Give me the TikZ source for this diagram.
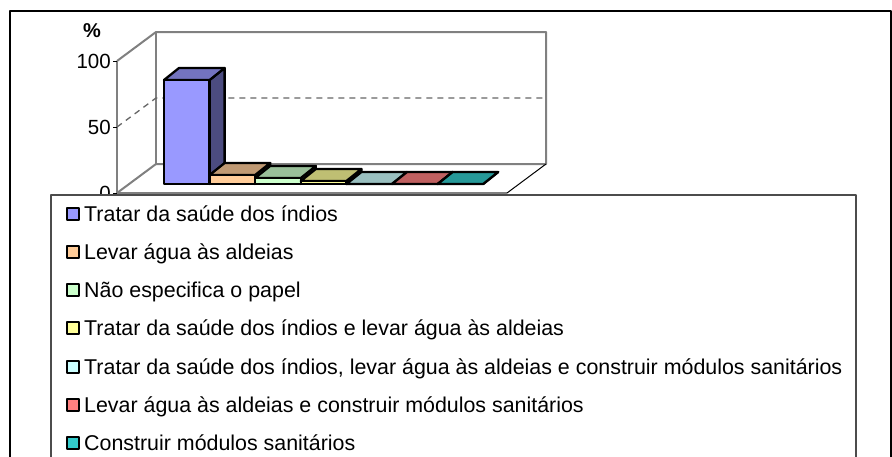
\documentclass[tikz,border=0pt]{standalone}
\usepackage{fontspec}
\setmainfont{Liberation Sans}
\usetikzlibrary{positioning}
\definecolor{cA}{HTML}{9999FF}
\definecolor{cB}{HTML}{FFCC99}
\definecolor{cC}{HTML}{CCFFCC}
\definecolor{cD}{HTML}{FFFF99}
\definecolor{cE}{HTML}{CCFFFF}
\definecolor{cF}{HTML}{FF8080}
\definecolor{cG}{HTML}{33CCCC}
\begin{document}
\begin{tikzpicture}[x=1pt,y=-1pt,line join=round,
	wall/.style={draw=black!50,line width=2pt},
	bar/.style={draw=black,line width=2.3pt},
	key/.style={draw=black,line width=2pt,minimum size=12pt,inner sep=0pt},
	entry/.style={font=\fontsize{21.4}{24}\selectfont,inner sep=0pt,anchor=base west},
	tick label/.style={font=\fontsize{20.5}{24}\selectfont,inner sep=0pt,anchor=east}]
	
	\useasboundingbox (0,0) rectangle (892,456);
	\clip (0,0) rectangle (892,456);
	\fill[white] (0,0) rectangle (892,456);
	\draw[line width=1.2pt] (10,11) rectangle (891,490);
	
	% walls and floor
	\draw[wall] (117,61) -- (156,32) -- (546,32) -- (546,164) -- (156,164) -- (117,193);
	\draw[wall] (156,32) -- (156,164);
	\draw[wall] (117,61) -- (117,193) -- (507,193);
	\draw[line width=1pt] (546,164) -- (507,193);
	\draw[dash pattern=on 6pt off 5pt,black!60,line width=1.3pt] (117,127) -- (156,98) -- (546,98);
	
	% axis
	\foreach \y in {61,127,193}
	\draw[line width=1pt] (113,\y) -- (117,\y);
	\node[tick label] (t100) at (111,61) {100};
	\node[tick label] (t50) at (111,127) {50};
	\node[tick label] (t0) at (111,193) {0};
	\node[font=\fontsize{20}{24}\selectfont\bfseries] (pct) at (92,31) {\%};
	
	% bars
	\foreach \h/\c [count=\i from 0] in {104/cA,9/cB,6/cC,3/cD,0/cE,0/cF,0/cG}{
		\pgfmathsetmacro{\xa}{164+45.6*\i}
		\pgfmathsetmacro{\xb}{\xa+45.6}
		\pgfmathsetmacro{\yt}{184-\h}
		\draw[bar,fill=\c!50!black] (\xb,184) -- (\xb+15,172) -- (\xb+15,\yt-12) -- (\xb,\yt) -- cycle;
		\draw[bar,fill=\c!75!black] (\xa,\yt) -- (\xa+15,\yt-12) -- (\xb+15,\yt-12) -- (\xb,\yt) -- cycle;
		\draw[bar,fill=\c] (\xa,184) rectangle (\xb,\yt);
	}
	
	% legend
	\draw[black!70,line width=1.2pt,fill=white] (51,195) rectangle (856,490);
	\node[key,fill=cA] (k1) at (72.5,213.5) {};
	\node[key,fill=cB] (k2) at (72.5,251.8) {};
	\node[key,fill=cC] (k3) at (72.5,290.1) {};
	\node[key,fill=cD] (k4) at (72.5,328.4) {};
	\node[key,fill=cE] (k5) at (72.5,366.7) {};
	\node[key,fill=cF] (k6) at (72.5,405.0) {};
	\node[key,fill=cG] (k7) at (72.5,443.3) {};
	\node[entry] (e1) at (84,221.0) {Tratar da saúde dos índios};
	\node[entry] (e2) at (84,259.3) {Levar água às aldeias};
	\node[entry] (e3) at (84,297.6) {Não especifica o papel};
	\node[entry] (e4) at (84,335.9) {Tratar da saúde dos índios e levar água às aldeias};
	\node[entry] (e5) at (84,374.2) {Tratar da saúde dos índios, levar água às aldeias e construir módulos sanitários};
	\node[entry] (e6) at (84,412.5) {Levar água às aldeias e construir módulos sanitários};
	\node[entry] (e7) at (84,450.8) {Construir módulos sanitários};
	
\end{tikzpicture}
\end{document}
